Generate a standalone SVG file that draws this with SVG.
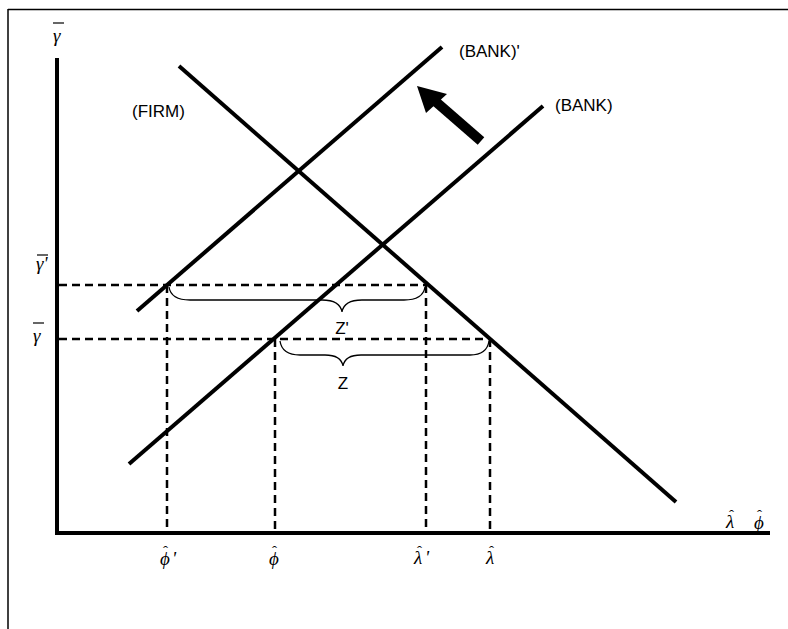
<svg xmlns="http://www.w3.org/2000/svg" width="788" height="629" viewBox="0 0 788 629">
<style>
.curve{stroke:#000;stroke-width:4;fill:none;stroke-linecap:butt}
.axis{stroke:#000;stroke-width:4;fill:none}
.dash{stroke:#000;stroke-width:2.5;stroke-dasharray:8 5;fill:none}
.brace{stroke:#000;stroke-width:1.3;fill:none}
.lbl{font-family:"Liberation Sans",Arial,sans-serif;font-size:17px;fill:#000}
.gk{font-family:"Liberation Serif","Times New Roman",serif;font-style:italic;font-size:19px;fill:#000}
.hat{font-style:normal;font-size:15px}
.bar{stroke:#000;stroke-width:1.2}
</style>
<rect width="788" height="629" fill="#fff"/>
<g id="frame">
<line x1="8" y1="9.5" x2="788" y2="9.5" stroke="#000" stroke-width="1.5"/>
<line x1="8" y1="9" x2="8" y2="629" stroke="#000" stroke-width="1.5"/>
</g>
<g id="axes">
<line class="axis" x1="57" y1="58" x2="57" y2="535"/>
<line class="axis" x1="55" y1="533" x2="770" y2="533"/>
</g>
<g id="connectors">
<line class="dash" x1="59" y1="285" x2="426" y2="285"/>
<line class="dash" x1="59" y1="339" x2="490" y2="339"/>
<line class="dash" x1="167" y1="285" x2="167" y2="531"/>
<line class="dash" x1="275" y1="339" x2="275" y2="531"/>
<line class="dash" x1="426" y1="285" x2="426" y2="531"/>
<line class="dash" x1="490" y1="339" x2="490" y2="531"/>
</g>
<g id="firm">
<line class="curve" x1="179" y1="66" x2="676" y2="502"/>
<text class="lbl" x="132" y="117">(FIRM)</text>
</g>
<g id="bank-prime">
<line class="curve" x1="137" y1="311" x2="442" y2="47"/>
<text class="lbl" x="459" y="57">(BANK)'</text>
</g>
<g id="bank">
<line class="curve" x1="129" y1="464" x2="543" y2="106"/>
<text class="lbl" x="555" y="111">(BANK)</text>
</g>
<g id="shift-arrow">
<line x1="481" y1="141" x2="435" y2="101" stroke="#000" stroke-width="10"/>
<polygon points="417,86 447,94 426,113" fill="#000"/>
</g>
<g id="brace-zprime">
<path class="brace" d="M169,287 Q171,300 190,300 L322,300 Q340,300 342,312 Q344,300 362,300 L404,300 Q423,300 425,287"/>
<text class="lbl" x="342" y="334" text-anchor="middle">Z'</text>
</g>
<g id="brace-z">
<path class="brace" d="M280,341 Q282,355 300,355 L325,355 Q341,355 343,366 Q345,355 361,355 L470,355 Q487,355 489,341"/>
<text class="lbl" x="343" y="389" text-anchor="middle">Z</text>
</g>
<g id="ylabel-top">
<line class="bar" x1="53" y1="23" x2="64" y2="23"/>
<text class="gk" x="53" y="42">γ</text>
</g>
<g id="ylabel-gamma-prime">
<line class="bar" x1="37" y1="255" x2="48" y2="255"/>
<text class="gk" x="36" y="270">γ'</text>
</g>
<g id="ylabel-gamma">
<line class="bar" x1="33" y1="323" x2="44" y2="323"/>
<text class="gk" x="33" y="342">γ</text>
</g>
<g id="xlabel-phi-prime">
<text class="gk" x="160" y="565">ϕ<tspan class="hat" x="163" y="556">ˆ</tspan><tspan x="172" y="565">'</tspan></text>
</g>
<g id="xlabel-phi">
<text class="gk" x="269" y="565">ϕ<tspan class="hat" x="272" y="556">ˆ</tspan></text>
</g>
<g id="xlabel-lambda-prime">
<text class="gk" x="414" y="564">λ<tspan class="hat" x="417" y="556">ˆ</tspan><tspan x="425" y="564">'</tspan></text>
</g>
<g id="xlabel-lambda">
<text class="gk" x="486" y="564">λ<tspan class="hat" x="489" y="556">ˆ</tspan></text>
</g>
<g id="axis-label-lambda">
<text class="gk" x="726" y="528">λ<tspan class="hat" x="729" y="520">ˆ</tspan></text>
</g>
<g id="axis-label-phi">
<text class="gk" x="754" y="529">ϕ<tspan class="hat" x="757" y="520">ˆ</tspan></text>
</g>
</svg>
